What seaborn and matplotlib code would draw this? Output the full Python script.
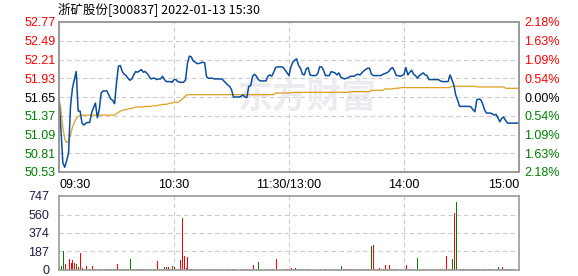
import matplotlib
matplotlib.use("Agg")
import matplotlib.pyplot as plt
import seaborn as sns
import pandas as pd

sns.set_theme(style="white")
plt.rcParams['font.family'] = ['Liberation Sans', 'Noto Sans CJK SC', 'DejaVu Sans']

title = "浙矿股份[300837] 2022-01-13 15:30"

price = [
    51.63, 51.17, 50.67, 50.60, 50.70, 50.82, 51.51, 51.78, 51.91, 52.03,
    51.44, 51.44, 51.26, 51.23, 51.26, 51.27, 51.27, 51.41, 51.49, 51.56,
    51.34, 51.46, 51.71, 51.74, 51.74, 51.74, 51.68, 51.62, 51.60, 51.55,
    51.86, 52.11, 52.12, 52.03, 51.99, 51.97, 51.93, 51.90, 51.92, 51.98,
    52.03, 52.02, 52.04, 52.06, 52.02, 52.03, 52.00, 51.96, 51.92, 51.93,
    51.93, 51.91, 51.92, 51.92, 51.96, 51.91, 51.88, 51.88, 51.88, 51.87,
    51.91, 51.91, 51.88, 51.87, 51.87, 51.87, 51.90, 52.15, 52.26, 52.25,
    52.19, 52.17, 52.15, 52.15, 52.16, 52.17, 52.16, 51.95, 51.93, 51.93,
    51.93, 51.92, 51.92, 51.92, 51.92, 51.92, 51.89, 51.86, 51.83, 51.81,
    51.76, 51.65, 51.65, 51.65, 51.65, 51.66, 51.68, 51.65, 51.64, 51.81,
    51.82, 51.96, 51.99, 51.96, 51.91, 51.89, 51.89, 51.89, 51.89, 51.96,
    51.98, 51.96, 52.02, 52.09, 52.10, 52.10, 52.10, 52.09, 52.05, 52.01,
    51.97, 52.10, 52.17, 52.20, 52.22, 52.12, 52.08, 51.99, 51.98, 52.07,
    52.09, 51.98, 51.97, 51.97, 51.97, 52.00, 52.10, 52.10, 52.05, 51.97,
    51.97, 51.97, 52.03, 52.02, 52.01, 51.98, 52.01, 51.95, 51.93, 51.92,
    51.93, 51.94, 51.96, 51.96, 51.96, 51.98, 51.99, 51.98, 52.01, 52.04,
    52.06, 52.08, 52.08, 51.99, 51.97, 51.97, 51.97, 51.97, 51.97, 51.99,
    52.00, 52.01, 52.03, 52.07, 52.09, 52.04, 51.97, 51.97, 51.96, 51.97,
    51.99, 52.09, 51.98, 52.02, 52.05, 51.99, 51.97, 51.93, 51.97, 51.99,
    52.01, 51.98, 51.97, 51.91, 51.91, 51.91, 51.91, 51.91, 51.91, 51.89,
    51.88, 51.88, 51.88, 51.88, 51.98, 51.91, 51.83, 51.68, 51.60, 51.51,
    51.51, 51.51, 51.51, 51.51, 51.51, 51.50, 51.46, 51.43, 51.61, 51.62,
    51.61, 51.55, 51.46, 51.41, 51.41, 51.41, 51.40, 51.38, 51.39, 51.34,
    51.28, 51.33, 51.35, 51.30, 51.26, 51.26, 51.26, 51.26, 51.26, 51.26,
    51.26,
]

avg_price = [
    51.62, 51.45, 51.20, 51.02, 50.97, 50.99, 51.08, 51.20, 51.27, 51.33,
    51.36, 51.37, 51.38, 51.38, 51.38, 51.38, 51.38, 51.38, 51.38, 51.38,
    51.38, 51.38, 51.38, 51.38, 51.38, 51.38, 51.38, 51.38, 51.38, 51.38,
    51.40, 51.42, 51.44, 51.45, 51.46, 51.46, 51.47, 51.48, 51.48, 51.49,
    51.50, 51.50, 51.50, 51.50, 51.50, 51.51, 51.51, 51.51, 51.51, 51.52,
    51.52, 51.52, 51.53, 51.53, 51.54, 51.54, 51.54, 51.55, 51.56, 51.56,
    51.57, 51.57, 51.57, 51.59, 51.61, 51.64, 51.67, 51.685, 51.685, 51.685,
    51.685, 51.685, 51.685, 51.685, 51.685, 51.685, 51.685, 51.685, 51.685, 51.685,
    51.685, 51.685, 51.685, 51.685, 51.685, 51.685, 51.685, 51.685, 51.685, 51.685,
    51.685, 51.685, 51.685, 51.685, 51.685, 51.685, 51.685, 51.685, 51.685, 51.685,
    51.685, 51.685, 51.685, 51.685, 51.685, 51.685, 51.685, 51.685, 51.685, 51.685,
    51.685, 51.685, 51.685, 51.71, 51.71, 51.71, 51.71, 51.71, 51.71, 51.71,
    51.71, 51.71, 51.72, 51.72, 51.72, 51.72, 51.72, 51.72, 51.72, 51.72,
    51.72, 51.72, 51.72, 51.72, 51.72, 51.72, 51.72, 51.72, 51.72, 51.72,
    51.72, 51.72, 51.72, 51.72, 51.72, 51.72, 51.72, 51.72, 51.72, 51.72,
    51.72, 51.72, 51.73, 51.73, 51.73, 51.73, 51.73, 51.73, 51.73, 51.73,
    51.73, 51.73, 51.73, 51.75, 51.75, 51.75, 51.75, 51.75, 51.75, 51.75,
    51.77, 51.77, 51.77, 51.77, 51.77, 51.78, 51.78, 51.78, 51.79, 51.79,
    51.79, 51.79, 51.79, 51.79, 51.79, 51.79, 51.79, 51.79, 51.79, 51.79,
    51.79, 51.79, 51.79, 51.79, 51.79, 51.79, 51.79, 51.79, 51.79, 51.79,
    51.79, 51.79, 51.79, 51.79, 51.79, 51.81, 51.81, 51.81, 51.81, 51.81,
    51.81, 51.81, 51.81, 51.81, 51.81, 51.81, 51.81, 51.81, 51.80, 51.80,
    51.80, 51.80, 51.80, 51.80, 51.80, 51.80, 51.80, 51.80, 51.80, 51.80,
    51.80, 51.80, 51.80, 51.78, 51.78, 51.78, 51.78, 51.78, 51.78, 51.78,
    51.78,
]

volume = [
    24, 40, 192, 61, 10, 111, 74, 101, 74, 61,
    30, 172, 20, 10, 40, 10, 10, 40, 10, 10,
    10, 10, 10, 0, 10, 10, 10, 10, 10, 10,
    61, 10, 10, 10, 10, 10, 10, 110, 10, 10,
    10, 10, 10, 10, 10, 10, 10, 0, 10, 10,
    10, 91, 10, 10, 10, 30, 30, 30, 10, 40,
    30, 10, 10, 101, 526, 142, 20, 131, 10, 10,
    10, 10, 0, 10, 10, 10, 0, 10, 10, 0,
    10, 10, 10, 0, 0, 0, 0, 10, 10, 0,
    10, 10, 10, 0, 0, 10, 10, 10, 10, 10,
    0, 50, 0, 10, 81, 10, 0, 0, 0, 10,
    10, 10, 10, 111, 0, 0, 0, 10, 10, 10,
    10, 20, 10, 20, 10, 10, 0, 10, 0, 10,
    10, 10, 0, 0, 0, 0, 10, 0, 10, 10,
    0, 10, 10, 0, 0, 10, 0, 40, 10, 10,
    10, 10, 10, 10, 0, 10, 10, 10, 10, 10,
    10, 10, 10, 243, 253, 10, 10, 20, 10, 10,
    50, 10, 50, 10, 10, 10, 10, 0, 0, 0,
    0, 50, 10, 10, 10, 10, 0, 121, 10, 0,
    10, 10, 0, 10, 0, 10, 10, 0, 0, 10,
    10, 10, 142, 10, 10, 111, 573, 687, 10, 10,
    10, 10, 10, 10, 10, 10, 10, 10, 10, 10,
    0, 10, 10, 0, 10, 10, 10, 0, 10, 30,
    10, 30, 10, 10, 10, 10, 10, 10, 0, 0,
    81,
]

vol_dir = (
    "rggrgrrrrg"
    "rrgrrggrrg"
    "rrgggrgrgg"
    "rgggggggrr"
    "rrrgrggggg"
    "grrgrgrrrg"
    "rrgrrrrrgg"
    "gggggrrrrg"
    "grgrrrrggr"
    "rggrrrrrgr"
    "rrrggrrrrr"
    "rrrrrrrrgr"
    "grrrrggggr"
    "rgrrrrrrgg"
    "grgrrrrgrg"
    "rrrrrrgrrr"
    "rrrgrrrrrr"
    "rgrgrrgrrr"
    "rrggggrggr"
    "rggggrrrrr"
    "rgrrggrgrr"
    "rrrgrrggrg"
    "gggggggggg"
    "rrgggrrrrr"
    "r"
)

price_ticks = [50.53, 50.81, 51.09, 51.37, 51.65, 51.93, 52.21, 52.49, 52.77]
price_labels = ["50.53", "50.81", "51.09", "51.37", "51.65", "51.93", "52.21", "52.49", "52.77"]
pct_labels = ["2.18%", "1.63%", "1.09%", "0.54%", "0.00%", "0.54%", "1.09%", "1.63%", "2.18%"]
vol_ticks = [0, 187, 374, 560, 747]
vol_labels = ["0", "187", "374", "560", "747"]
time_ticks = [0, 60, 120, 180, 240]
time_labels = ["09:30", "10:30", "11:30/13:00", "14:00", "15:00"]

minutes = list(range(len(price)))
df = pd.DataFrame({"minute": minutes, "price": price, "avg": avg_price,
                   "volume": volume, "dir": list(vol_dir)})

RED = "#FF0000"
GREEN = "#008000"
label_colors = [GREEN, GREEN, GREEN, GREEN, "#000000", RED, RED, RED, RED]

fig = plt.figure(figsize=(5.78, 2.76), dpi=100)
W, H = 578, 276
ax = fig.add_axes([59 / W, 1 - 172 / H, 460 / W, 150 / H])
axv = fig.add_axes([59 / W, 1 - 270 / H, 460 / W, 74 / H])

grid_kw = dict(color="#CCCCCC", lw=0.8, ls=(0, (4, 3)), zorder=0)

# watermark
ax.text(129.5, 51.65, "东方财富", ha="center", va="center", fontsize=25,
        fontweight="bold", color="#EBEBF0", family=["Noto Sans CJK SC"], zorder=0.5)

for y in price_ticks[1:-1]:
    ax.axhline(y, **grid_kw)
for t in time_ticks[1:-1]:
    ax.axvline(t, **grid_kw)

sns.lineplot(data=df, x="minute", y="avg", ax=ax, color="#E0A020", lw=0.9, zorder=2)
sns.lineplot(data=df, x="minute", y="price", ax=ax, color="#0A4EA0", lw=1.1, zorder=3)

ax.set_xlim(0, 240)
ax.set_ylim(50.53, 52.77)
ax.set_xlabel("")
ax.set_ylabel("")
ax.set_yticks(price_ticks)
ax.set_yticklabels(price_labels)
ax.set_xticks(time_ticks)
ax.set_xticklabels(time_labels)
ax.tick_params(axis="y", length=0, pad=2.5, labelsize=9)
ax.tick_params(axis="x", length=0, pad=5, labelsize=9, colors="#000000")
for lab, c in zip(ax.get_yticklabels(), label_colors):
    lab.set_color(c)
xl = ax.get_xticklabels()
xl[0].set_horizontalalignment("left")
xl[-1].set_horizontalalignment("right")

axr = ax.twinx()
axr.set_ylim(50.53, 52.77)
axr.set_yticks(price_ticks)
axr.set_yticklabels(pct_labels)
axr.tick_params(axis="y", length=0, pad=4, labelsize=9)
for lab, c in zip(axr.get_yticklabels(), label_colors):
    lab.set_color(c)

for a in (ax, axr, axv):
    for s in a.spines.values():
        s.set_color("#999999")
        s.set_linewidth(1.2)

# volume
for y in vol_ticks[1:-1]:
    axv.axhline(y, **grid_kw)
for t in time_ticks[1:-1]:
    axv.axvline(t, **grid_kw)
vdf = df[df["volume"] > 0]
bar_colors = [RED if d == "r" else GREEN for d in vdf["dir"]]
axv.vlines(vdf["minute"].to_numpy(), 0, vdf["volume"].to_numpy(), colors=bar_colors,
           linewidth=0.7, antialiased=False, zorder=2)
axv.set_xlim(0, 240)
axv.set_ylim(0, 747)
axv.set_xticks([])
axv.set_yticks(vol_ticks)
axv.set_yticklabels(vol_labels)
axv.tick_params(axis="y", length=0, pad=7, labelsize=9, colors="#1E1E46")
axv.set_xlabel("")
axv.set_ylabel("")

fig.text(58 / W, 1 - 9 / H, title, ha="left", va="center", fontsize=9,
         family=["Noto Sans CJK SC", "DejaVu Sans"], color="#000000")

fig.savefig("out.png", dpi=100)
